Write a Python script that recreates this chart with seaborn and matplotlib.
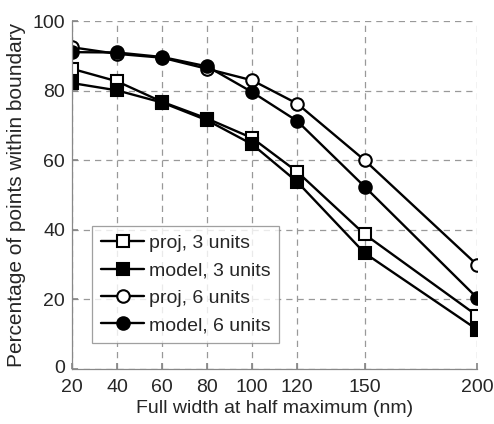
import matplotlib
matplotlib.use("Agg")
import matplotlib.pyplot as plt
import matplotlib.transforms as mtransforms
import seaborn as sns
import pandas as pd

fwhm = [20, 40, 60, 80, 100, 120, 150, 200]
proj3 = [86.3, 82.7, 76.8, 72.0, 66.4, 56.7, 38.7, 15.3]
model3 = [82.2, 80.1, 76.6, 71.5, 64.6, 53.8, 33.3, 11.3]
proj6 = [92.5, 90.6, 89.5, 86.3, 83.0, 76.3, 60.0, 29.9]
model6 = [91.1, 91.0, 89.7, 87.0, 79.6, 71.3, 52.4, 20.4]
labels = ["proj, 3 units", "model, 3 units", "proj, 6 units", "model, 6 units"]
yticks = [0, 20, 40, 60, 80, 100]

sns.set_theme(style="white")
plt.rcParams['font.family'] = ['Liberation Sans', 'DejaVu Sans']

rows = []
for lab, vals in zip(labels, [proj3, model3, proj6, model6]):
    for x, y in zip(fwhm, vals):
        rows.append({"fwhm": x, "pct": y, "series": lab})
df = pd.DataFrame(rows)

fig = plt.figure(figsize=(4.94, 4.24), dpi=100)
ax = fig.add_axes([0.146, 0.130, 0.820, 0.820])

styles = {
    "proj, 3 units": dict(marker="s", mfc="white"),
    "model, 3 units": dict(marker="s", mfc="black"),
    "proj, 6 units": dict(marker="o", mfc="white"),
    "model, 6 units": dict(marker="o", mfc="black"),
}
for lab in labels:
    sub = df[df.series == lab]
    st = styles[lab]
    sns.lineplot(data=sub, x="fwhm", y="pct", ax=ax, color="black", linewidth=1.7,
                 marker=st["marker"], markersize=9, markerfacecolor=st["mfc"],
                 markeredgecolor="black", markeredgewidth=1.5, label=lab)

ax.set_xlim(20, 200)
ax.set_ylim(0, 100)
ax.set_xticks(fwhm)
ax.set_yticks(yticks)
ax.tick_params(axis="both", labelsize=14, direction="in", length=4, color="#888888",
               top=False, right=False, bottom=True, left=True)
ax.tick_params(axis="x", pad=7)
ax.tick_params(axis="y", pad=5)
ax.grid(True, linestyle=(0, (5, 4)), color="#999999", linewidth=0.9)
for s in ["top", "right"]:
    ax.spines[s].set_visible(False)
for s in ["left", "bottom"]:
    ax.spines[s].set_color("#888888")
    ax.spines[s].set_linewidth(0.9)

# lift the "0" y tick label slightly, as in the reference
fig.canvas.draw()
for t in ax.get_yticklabels():
    if t.get_text() == "0":
        t.set_transform(t.get_transform() + mtransforms.ScaledTranslation(0, 1.5 / 72, fig.dpi_scale_trans))

ax.set_xlabel("Full width at half maximum (nm)", fontsize=14, labelpad=3)
ax.set_ylabel("Percentage of points within boundary", fontsize=15, labelpad=5)

leg = ax.legend(loc="lower left", bbox_to_anchor=(0.05, 0.075), fontsize=14,
                frameon=True, fancybox=False, edgecolor="#888888",
                handlelength=2.2, handletextpad=0.25, labelspacing=0.5,
                borderpad=0.45, borderaxespad=0)
leg.get_frame().set_linewidth(0.9)

fig.savefig("out.png", dpi=100)
